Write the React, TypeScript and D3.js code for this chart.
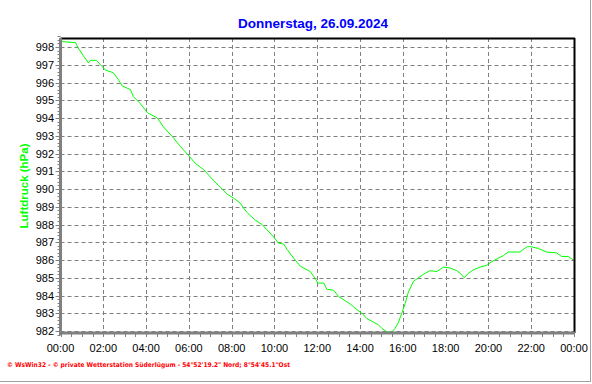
import React from "react";
import * as d3 from "d3";

const hours = [0.0,0.1,0.7,0.8,1.07,1.31,1.4,1.68,1.87,2.1,2.47,2.71,2.89,3.27,3.41,3.74,4.06,4.53,4.81,5.23,5.6,5.98,6.3,6.68,7.14,7.47,7.8,8.08,8.4,8.7,9.1,9.42,9.65,9.96,10.19,10.43,10.59,10.9,11.21,11.44,11.67,11.91,12.02,12.3,12.45,12.76,12.99,13.38,13.62,13.85,14.09,14.32,14.63,14.86,15.02,15.25,15.49,15.64,15.8,15.95,16.11,16.26,16.5,16.73,16.97,17.28,17.59,17.9,18.21,18.52,18.68,18.87,19.06,19.3,19.61,19.92,20.15,20.46,20.7,20.93,21.48,21.63,21.82,21.98,22.33,22.72,23.19,23.42,23.73,23.97];
const pressure = [998.45,998.3,998.25,998.0,997.5,997.1,997.25,997.25,997.0,996.7,996.55,996.15,995.8,995.6,995.2,994.8,994.3,994.0,993.5,992.95,992.4,991.9,991.45,991.1,990.5,990.1,989.7,989.5,989.2,988.7,988.25,988.0,987.7,987.3,986.95,986.9,986.6,986.1,985.65,985.5,985.35,984.95,984.7,984.7,984.35,984.3,983.95,983.65,983.45,983.2,983.0,982.7,982.5,982.35,982.15,981.95,981.95,982.15,982.5,983.0,983.55,984.2,984.8,985.0,985.2,985.4,985.35,985.6,985.55,985.4,985.25,985.0,985.25,985.45,985.6,985.7,985.9,986.1,986.25,986.45,986.45,986.6,986.75,986.75,986.65,986.45,986.4,986.2,986.2,986.0];

const yTicks = [982,983,984,985,986,987,988,989,990,991,992,993,994,995,996,997,998];
const xTicks = [0,2,4,6,8,10,12,14,16,18,20,22,24];
const xTickLabels = ["00:00","02:00","04:00","06:00","08:00","10:00","12:00","14:00","16:00","18:00","20:00","22:00","00:00"];
const title = "Donnerstag, 26.09.2024";
const yTitle = "Luftdruck (hPa)";
const footer = "\u00a9 WsWin32  -  \u00a9 private Wetterstation S\u00fcderl\u00fcgum  -  54\u00b052'19.2\" Nord; 8\u00b054'45.1\"Ost";

const W = 592, H = 384;
const L = 60.5, R = 574, T = 38, B = 333;

export default function App() {
  const x = d3.scaleLinear().domain([0, 24]).range([L, R]);
  const y = d3.scaleLinear().domain([982, 998]).range([331, 47]);
  const data = hours.map((h, i) => [h, pressure[i]] as [number, number]);
  const line = d3.line<[number, number]>().x(d => x(d[0])).y(d => y(d[1])).curve(d3.curveLinear);
  const minorX = d3.range(0, 24.01, 0.5);
  const minorY = d3.range(981.8, 998.6, 0.2);
  const font = "Arial, 'Liberation Sans', sans-serif";
  return (
    <svg width={W} height={H} style={{ position: "absolute", left: 0, top: 0, background: "#fff" }}>
      <rect x={0} y={0} width={W} height={H} fill="#fff" />
      <line x1={590.5} y1={0} x2={590.5} y2={382} stroke="#a0a0a0" strokeWidth={1} />
      <line x1={0} y1={381.5} x2={591} y2={381.5} stroke="#a0a0a0" strokeWidth={1} />
      <text x={313} y={28} textAnchor="middle" fill="#0000ff" fontFamily={font} fontWeight="bold" fontSize={13.5}>{title}</text>
      {yTicks.map(t => (
        <line key={"gy" + t} x1={L} x2={R} y1={Math.round(y(t)) + 0.5} y2={Math.round(y(t)) + 0.5} stroke="#808080" strokeDasharray="4,3" />
      ))}
      {xTicks.slice(1, -1).map(t => (
        <line key={"gx" + t} x1={Math.round(x(t)) + 0.5} x2={Math.round(x(t)) + 0.5} y1={T} y2={B} stroke="#808080" strokeDasharray="4,3" />
      ))}
      <path d={line(data) || ""} fill="none" stroke="#00ff00" strokeWidth={1} />
      <line x1={L} x2={R + 1} y1={T + 0.5} y2={T + 0.5} stroke="#000" strokeWidth={2} />
      <line x1={R + 0.5} x2={R + 0.5} y1={T} y2={B} stroke="#000" strokeWidth={2} />
      <line x1={L} x2={L} y1={T} y2={B + 2} stroke="#808080" strokeWidth={3} />
      <line x1={L - 1} x2={R + 1} y1={B} y2={B} stroke="#808080" strokeWidth={3} />
      {minorX.map(t => (
        <line key={"mx" + t} x1={Math.round(x(t)) + 0.5} x2={Math.round(x(t)) + 0.5} y1={B} y2={B + 4} stroke="#808080" strokeWidth={1} />
      ))}
      {minorY.map(t => (
        <line key={"my" + t} x1={L - 3} x2={L} y1={Math.round(y(t)) + 0.5} y2={Math.round(y(t)) + 0.5} stroke="#808080" strokeWidth={1} />
      ))}
      {yTicks.map(t => (
        <line key={"ty" + t} x1={L - 5} x2={L} y1={Math.round(y(t)) + 0.5} y2={Math.round(y(t)) + 0.5} stroke="#808080" strokeWidth={1} />
      ))}
      {yTicks.map(t => (
        <text key={"ly" + t} x={54} y={y(t) + 4} textAnchor="end" fontFamily={font} fontSize={11} fill="#000">{t}</text>
      ))}
      {xTicks.map((t, i) => (
        <text key={"lx" + i} x={x(t)} y={352} textAnchor="middle" fontFamily={font} fontSize={11} fill="#000">{xTickLabels[i]}</text>
      ))}
      <text transform="translate(28,186) rotate(-90)" textAnchor="middle" fill="#00ff00" fontFamily={font} fontWeight="bold" fontSize={11.5}>{yTitle}</text>
      <text x={7} y={367} fill="#ff0000" fontFamily="'DejaVu Sans', Verdana, sans-serif" fontWeight="bold" fontSize={6.5} textLength={283} lengthAdjust="spacingAndGlyphs">{footer}</text>
    </svg>
  );
}
